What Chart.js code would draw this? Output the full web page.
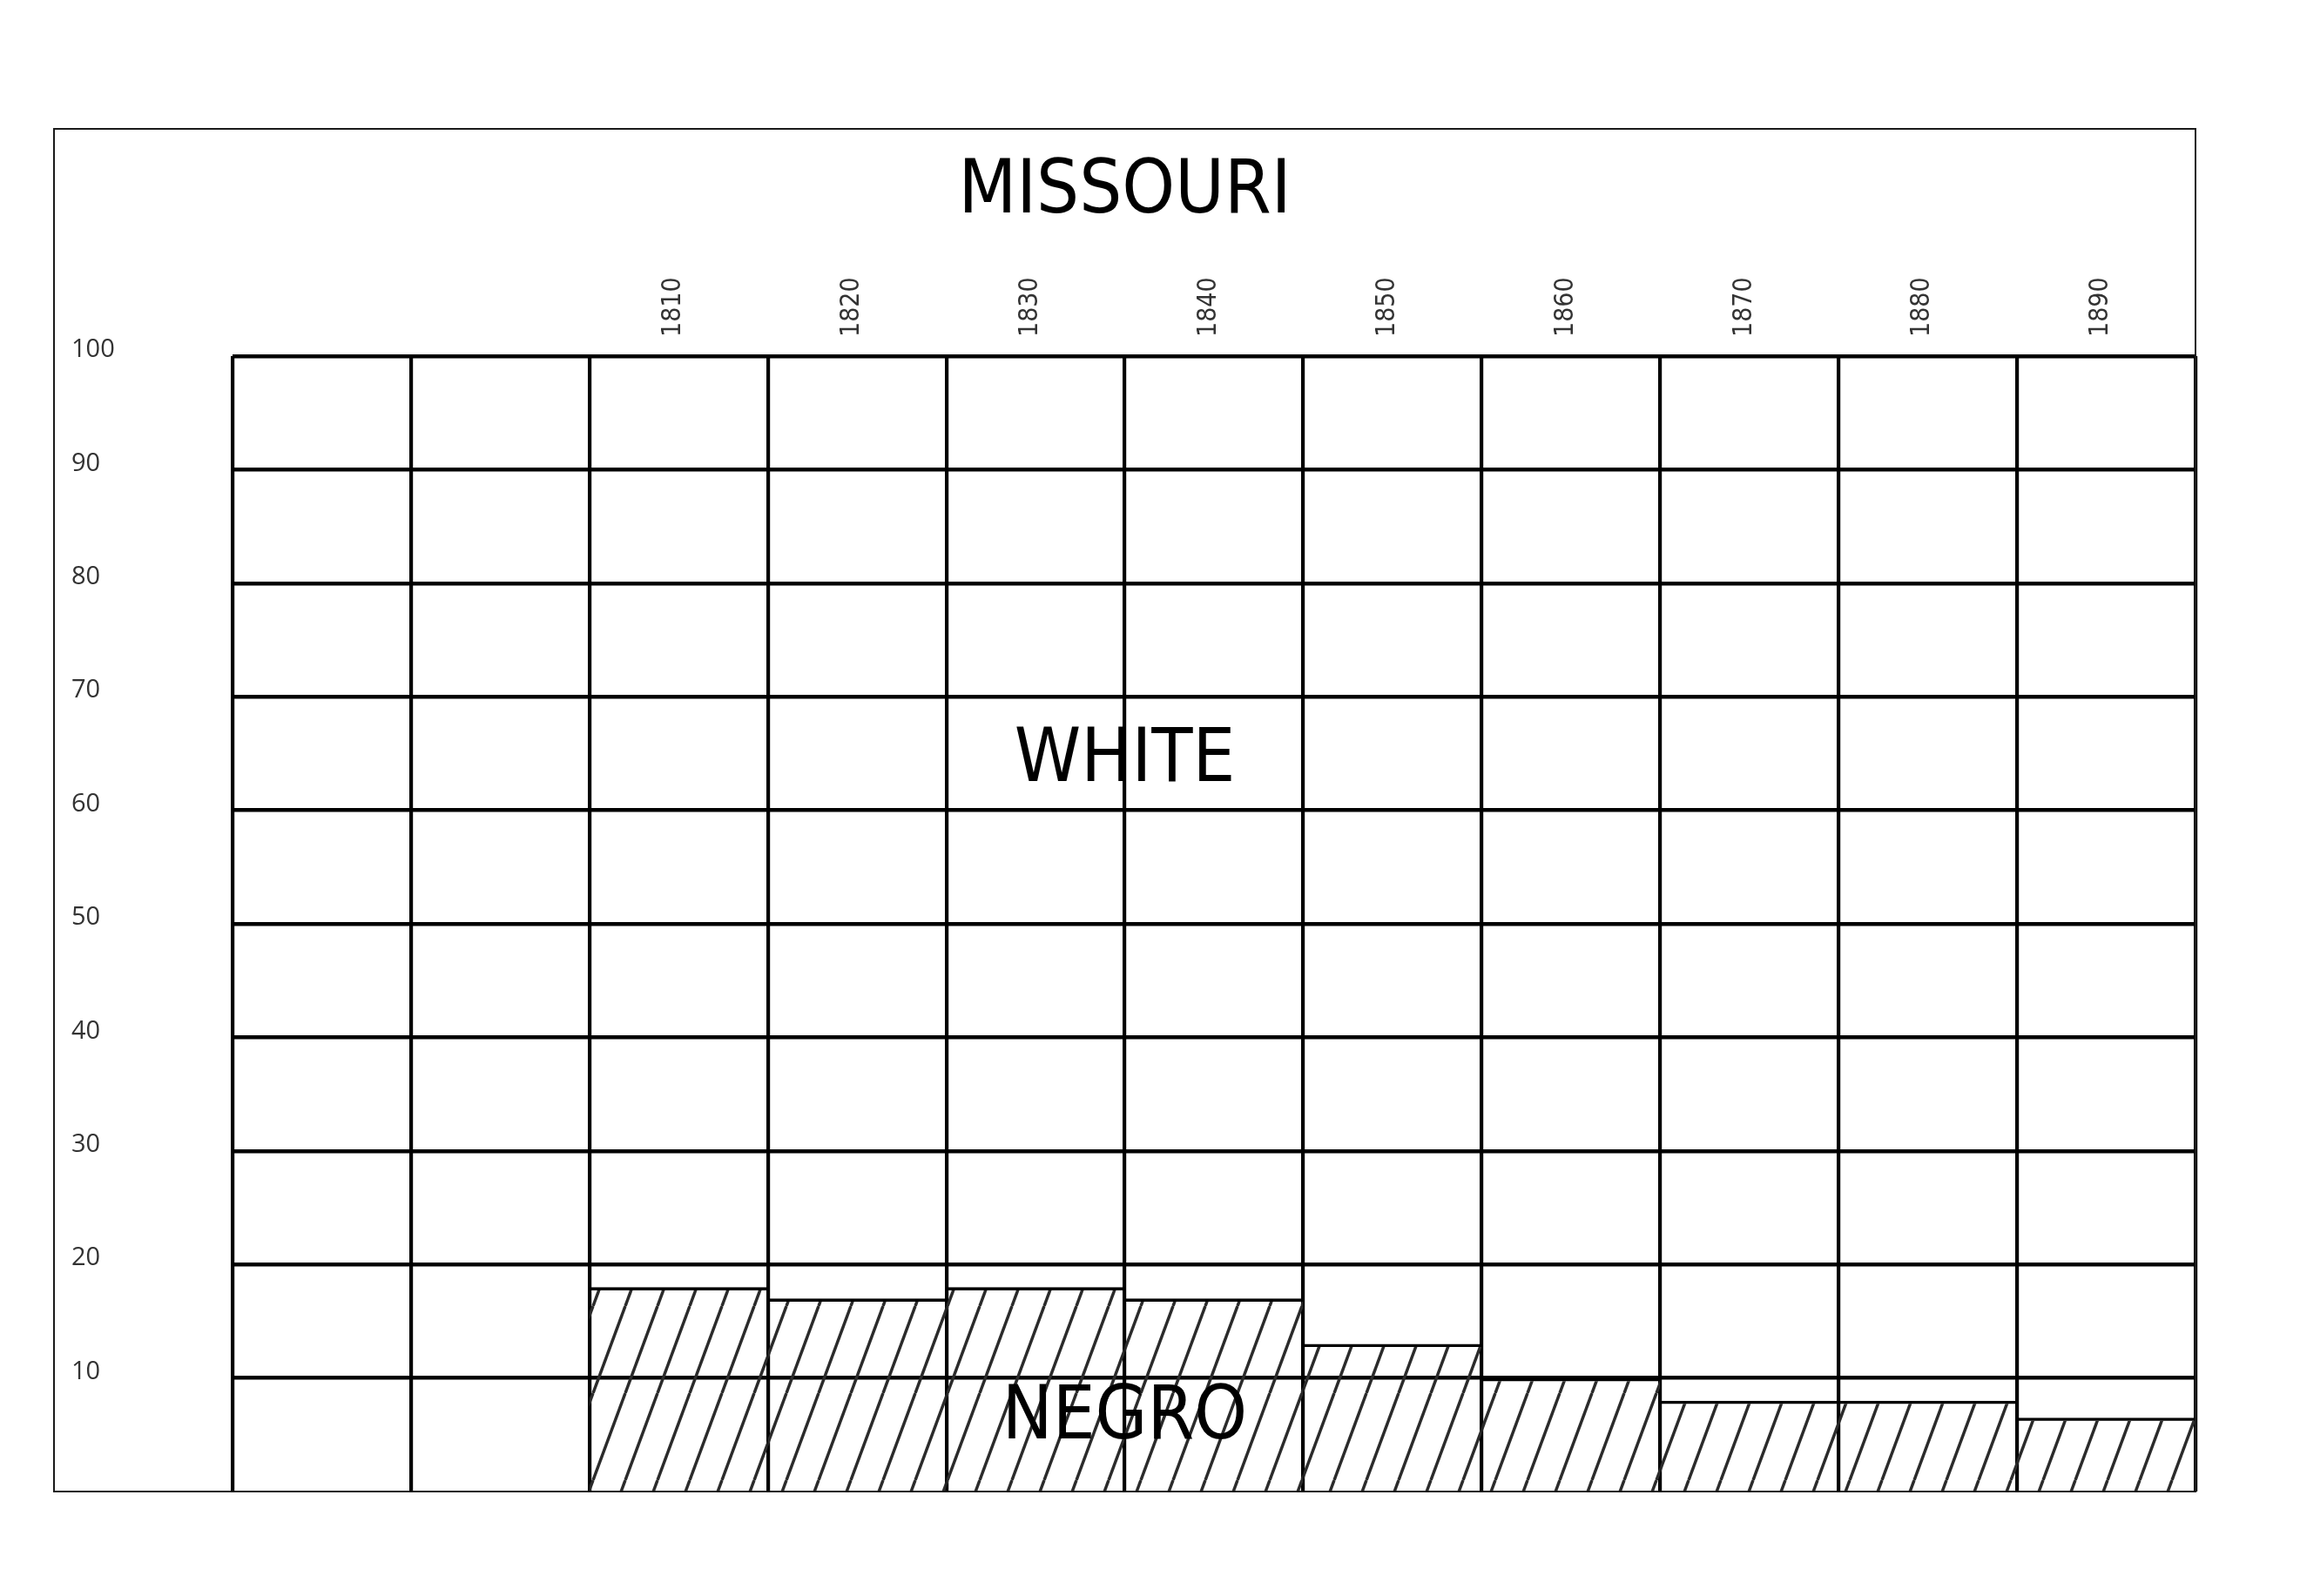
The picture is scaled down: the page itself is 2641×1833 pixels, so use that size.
<!DOCTYPE html>
<html><head><meta charset="utf-8">
<script src="https://cdn.jsdelivr.net/npm/chart.js@4.4.1/dist/chart.umd.min.js"></script>
<style>html,body{margin:0;padding:0;background:#fff;} canvas{display:block;}</style>
</head><body><canvas id="c" width="2641" height="1833"></canvas>
<script>
// ---- data ----
const categories = ['', '', '1810', '1820', '1830', '1840', '1850', '1860', '1870', '1880', '1890'];
const negroPercent = [null, null, 18, 17, 18, 17, 13, 10, 8, 8, 6.5];
const yTicks = [0, 10, 20, 30, 40, 50, 60, 70, 80, 90, 100];
const chartTitle = 'MISSOURI';
const areaLabels = ['WHITE', 'NEGRO'];
const areaLabelValues = [64.3, 6.4];

// ---- styling ----
const bigFamily = "'DejaVu Sans Condensed', 'DejaVu Sans', sans-serif";
const bigSize = 86;
const titlePadTop = 22;
const pad = { left: 62, right: 120, top: 148, bottom: 120 };
const plotTop = 409;

function makeHatch(ctx) {
  const W = 37, H = 100;
  const c = document.createElement('canvas');
  c.width = W; c.height = H;
  const g = c.getContext('2d');
  g.strokeStyle = '#2b2b2b';
  g.lineWidth = 3.5;
  for (let k = -1; k <= 1; k++) {
    g.beginPath();
    g.moveTo(k * W, H);
    g.lineTo(k * W + W, 0);
    g.stroke();
  }
  const p = ctx.createPattern(c, 'repeat');
  p.setTransform(new DOMMatrix().translate(15, 0));
  return p;
}

const cv = document.getElementById('c');
const ctx = cv.getContext('2d');

const framePlugin = {
  id: 'frame',
  afterDraw(chart) {
    const c = chart.ctx, a = chart.chartArea;
    const p = chart.options.layout.padding;
    c.save();
    c.strokeStyle = '#1a1a1a';
    c.lineWidth = 2;
    c.strokeRect(p.left, p.top, a.right - p.left, a.bottom - p.top);
    const y = chart.scales.y;
    const cx = (p.left + a.right) / 2;
    c.fillStyle = '#000';
    c.font = bigSize + 'px ' + bigFamily;
    c.textAlign = 'center';
    c.textBaseline = 'middle';
    areaLabels.forEach((t, i) => c.fillText(t, cx, y.getPixelForValue(areaLabelValues[i])));
    c.restore();
  }
};

new Chart(ctx, {
  type: 'bar',
  data: {
    labels: categories,
    datasets: [{
      data: negroPercent,
      backgroundColor: makeHatch(ctx),
      borderColor: '#000',
      borderWidth: { top: 3.6, right: 0, bottom: 0, left: 0 },
      borderSkipped: 'start',
      inflateAmount: 0,
      barPercentage: 1,
      categoryPercentage: 1
    }]
  },
  options: {
    responsive: false,
    animation: false,
    devicePixelRatio: 1,
    layout: { padding: pad },
    plugins: {
      legend: { display: false },
      tooltip: { enabled: false },
      title: {
        display: true,
        text: chartTitle,
        color: '#000',
        font: { family: bigFamily, size: bigSize, weight: 'normal', lineHeight: 1.2 },
        padding: { top: titlePadTop, bottom: 0 }
      }
    },
    scales: {
      x: {
        position: 'top',
        grid: { offset: true, color: '#000', lineWidth: 4.2, drawTicks: false },
        border: { display: false },
        ticks: {
          autoSkip: false, minRotation: 90, maxRotation: 90, padding: 22,
          color: '#333',
          font: { family: "'DejaVu Sans Condensed', 'DejaVu Sans', sans-serif", size: 30, lineHeight: 0.2 }
        },
        afterFit(s) { s.height = plotTop - (pad.top + titlePadTop + bigSize * 1.2); }
      },
      y: {
        min: 0, max: 100,
        afterBuildTicks(s) { s.ticks = yTicks.map(v => ({ value: v })); },
        grid: { color: '#000', lineWidth: c => (c.tick && c.tick.value === 0 ? 0 : 4.6), drawTicks: false },
        border: { display: false },
        ticks: {
          mirror: true, padding: -185, labelOffset: -7,
          color: '#333',
          font: { family: "'Open Sans', sans-serif", size: 29 },
          callback: v => (v === 0 ? '' : String(v))
        },
        afterFit(s) { s.width = 205; }
      }
    }
  },
  plugins: [framePlugin]
});
</script></body></html>
